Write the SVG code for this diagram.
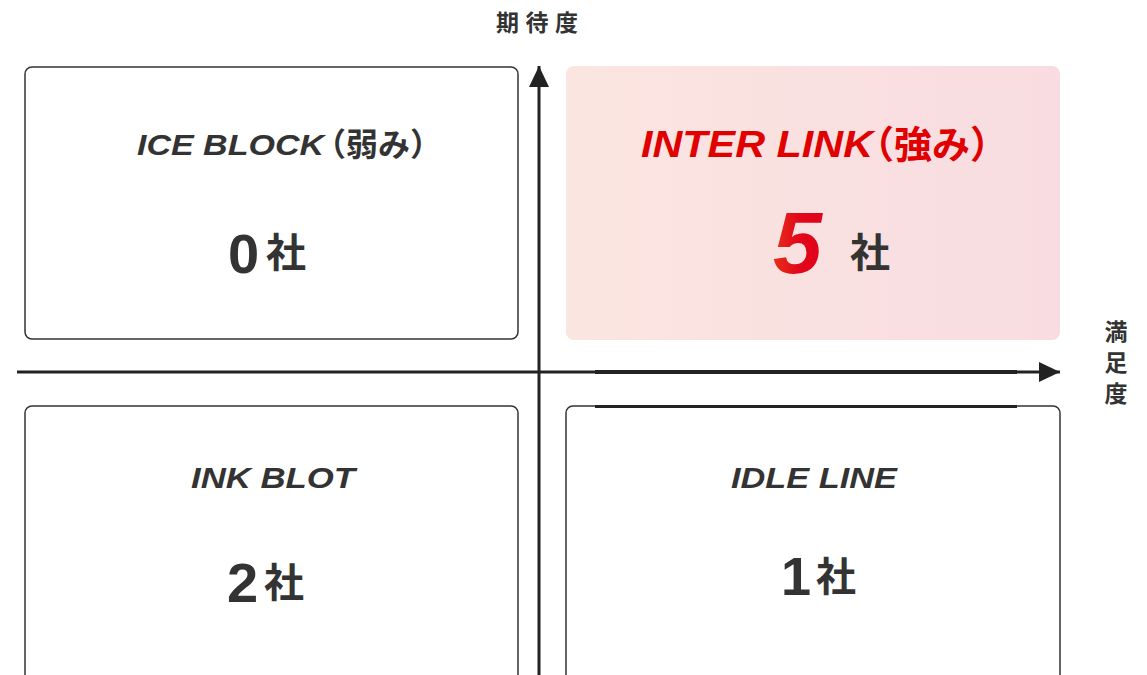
<svg xmlns="http://www.w3.org/2000/svg" width="1147" height="675" viewBox="0 0 1147 675">
<defs>
<style>
.box{fill:#fff;stroke:#333;stroke-width:1.5}
.axis{stroke:#222;stroke-width:3;fill:none}
.lat{font-family:"Liberation Sans",Arial,sans-serif;font-weight:bold;font-style:italic;fill:#333}
.cjk{font-family:"Noto Sans CJK JP","Noto Sans CJK SC",sans-serif;font-weight:bold;fill:#333}
.num{font-family:"Liberation Sans",Arial,sans-serif;font-weight:bold;fill:#333}
.red{fill:#e00000}
.lbl{font-family:"Noto Sans CJK JP","Noto Sans CJK SC",sans-serif;font-weight:bold;font-size:23px;fill:#333}
</style>
<linearGradient id="pink" x1="0" y1="0" x2="1" y2="0">
<stop offset="0" stop-color="#fbe5e0"/>
<stop offset="1" stop-color="#f8dce1"/>
</linearGradient>
<linearGradient id="five" x1="0" y1="0" x2="1" y2="0">
<stop offset="0" stop-color="#e6301a"/>
<stop offset="0.5" stop-color="#e2081a"/>
<stop offset="1" stop-color="#e0001a"/>
</linearGradient>
<marker id="arr" viewBox="0 0 21 20" refX="21" refY="10" markerWidth="21" markerHeight="20" markerUnits="userSpaceOnUse" orient="auto">
<path d="M0,0 L21,10 L0,20 Z" fill="#222"/>
</marker>
</defs>

<g id="node-ice-block">
<rect class="box" x="25" y="67" width="493" height="272" rx="7"/>
<text class="lat" x="137" y="155" font-size="30" textLength="187" lengthAdjust="spacingAndGlyphs">ICE BLOCK</text>
<text class="cjk" x="314" y="156" font-size="32">（弱み）</text>
<text class="num" x="228" y="273" font-size="56">0</text>
<text class="cjk" x="266" y="267" font-size="40">社</text>
</g>

<g id="node-inter-link">
<rect x="566" y="66" width="494" height="274" rx="8" fill="url(#pink)"/>
<text class="lat red" x="641" y="157" font-size="36" textLength="232" lengthAdjust="spacingAndGlyphs">INTER LINK</text>
<text class="cjk red" x="856" y="158" font-size="38">（強み）</text>
<text class="lat" x="773" y="273" font-size="88" style="fill:url(#five)">5</text>
<text class="cjk" x="850" y="267" font-size="40">社</text>
</g>

<g id="node-ink-blot">
<rect class="box" x="25" y="406" width="493" height="285" rx="7"/>
<text class="lat" x="191" y="488" font-size="30" textLength="164" lengthAdjust="spacingAndGlyphs">INK BLOT</text>
<text class="num" x="227" y="602" font-size="56">2</text>
<text class="cjk" x="264" y="597" font-size="40">社</text>
</g>

<g id="node-idle-line">
<rect class="box" x="566" y="406" width="494" height="285" rx="7"/>
<line x1="595" y1="406.5" x2="1017" y2="406.5" stroke="#222" stroke-width="3"/>
<text class="lat" x="731" y="488" font-size="30" textLength="166" lengthAdjust="spacingAndGlyphs">IDLE LINE</text>
<text class="num" x="781" y="595" font-size="54">1</text>
<text class="cjk" x="816" y="591" font-size="40">社</text>
</g>

<g id="connectors">
<line class="axis" x1="539" y1="675" x2="539" y2="66" marker-end="url(#arr)"/>
<line class="axis" x1="17" y1="372" x2="1060" y2="372" marker-end="url(#arr)"/>
<line x1="595" y1="372" x2="1017" y2="372" stroke="#222" stroke-width="4"/>
</g>

<g id="axis-labels">
<text class="lbl" x="496" y="31" letter-spacing="6.5">期待度</text>
<text class="lbl" x="1116" y="320" style="writing-mode:vertical-rl;text-orientation:upright" letter-spacing="8">満足度</text>
</g>
</svg>
